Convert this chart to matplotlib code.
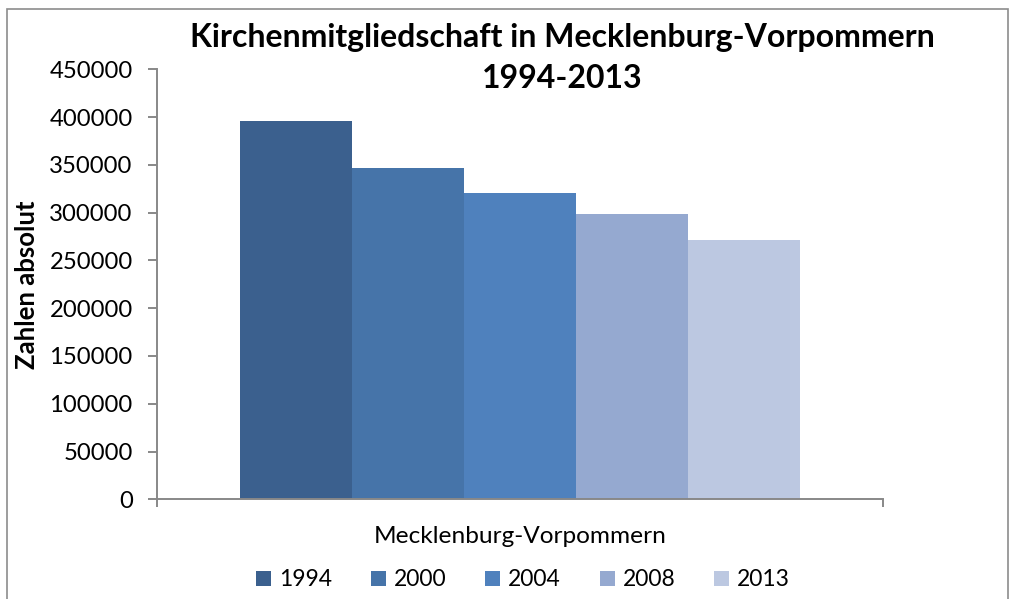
import matplotlib
matplotlib.use("Agg")
import matplotlib.pyplot as plt
from matplotlib.patches import Patch, Rectangle

plt.rcParams['font.family'] = ['Lato', 'DejaVu Sans']

# data
region = "Mecklenburg-Vorpommern"
years = ["1994", "2000", "2004", "2008", "2013"]
members = [396000, 347000, 321000, 299000, 271000]
colors = ["#3B608E", "#4674A9", "#4F81BD", "#95A9D0", "#BCC8E1"]
yticks = list(range(0, 450001, 50000))

W, H = 1015, 599
fig = plt.figure(figsize=(W / 100, H / 100), dpi=100)

# chart border
fig.patches.append(Rectangle((7 / W, -0.05), 1001 / W, 1.05 - 9 / H,
                             transform=fig.transFigure, fill=False,
                             edgecolor="#8C8C8C", linewidth=1.2))

ax = fig.add_axes([157 / W, (H - 499.3) / H, 726 / W, 430 / H])

bw = 0.1543
for i, (yr, val, c) in enumerate(zip(years, members, colors)):
    ax.bar((i - 2) * bw, val, width=bw, color=c, label=yr, linewidth=0)

ax.set_xlim(-0.5, 0.5)
ax.set_ylim(0, 450000)
ax.set_yticks(yticks)
ax.set_yticklabels([str(v) for v in yticks])
ax.set_xticks([0])
ax.set_xticklabels([region])
ax.set_xticks([-0.5, 0.5], minor=True)

axcol = "#888888"
for s in ["top", "right"]:
    ax.spines[s].set_visible(False)
for s in ["left", "bottom"]:
    ax.spines[s].set_color(axcol)
    ax.spines[s].set_linewidth(1.4)

ax.tick_params(axis="y", length=6.5, width=1.4, color=axcol, pad=11,
               labelsize=17.2, labelcolor="black")
ax.tick_params(axis="x", which="major", length=0, pad=19,
               labelsize=17.6, labelcolor="black")
ax.tick_params(axis="x", which="minor", length=6, width=1.4, color=axcol)

ax.set_ylabel("Zahlen absolut", fontsize=18.5, fontweight="bold")
ax.yaxis.set_label_coords(-0.162, 0.5)

fig.text(562 / W, 1 - 47 / H, "Kirchenmitgliedschaft in Mecklenburg-Vorpommern",
         ha="center", va="baseline", fontsize=23, fontweight="bold")
fig.text(562 / W, 1 - 88 / H, "1994-2013",
         ha="center", va="baseline", fontsize=23, fontweight="bold")

handles = [Patch(facecolor=c, edgecolor="none", label=y) for y, c in zip(years, colors)]
fig.legend(handles=handles, loc="center", bbox_to_anchor=(523 / W, 1 - 580 / H),
           ncol=5, frameon=False, fontsize=16.5, handlelength=0.65,
           handleheight=0.65, handletextpad=0.35, columnspacing=1.7,
           borderpad=0, borderaxespad=0)

fig.savefig("out.png", dpi=100)
